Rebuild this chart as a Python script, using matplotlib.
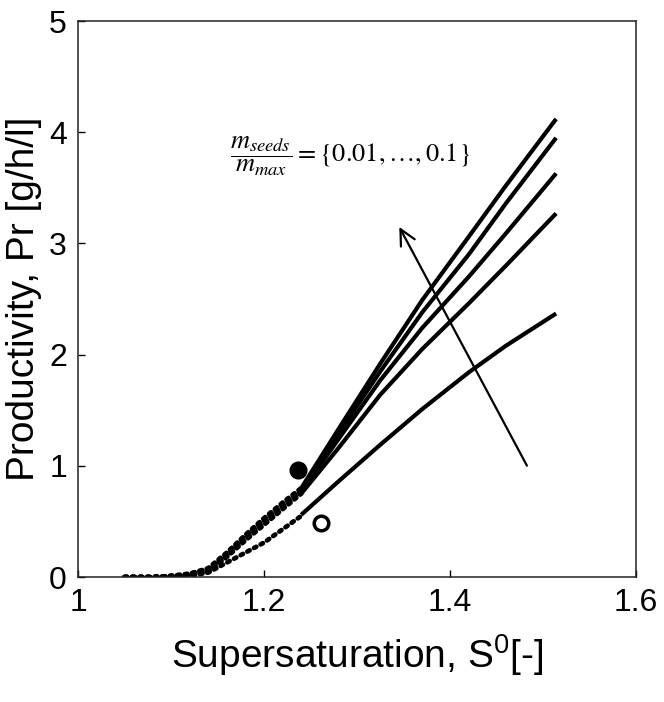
import matplotlib
matplotlib.use("Agg")
import matplotlib.pyplot as plt
import numpy as np

plt.rcParams['font.family'] = ['Liberation Sans', 'DejaVu Sans']
plt.rcParams['mathtext.fontset'] = 'custom'
plt.rcParams['mathtext.rm'] = 'Liberation Sans'
plt.rcParams['mathtext.it'] = 'Liberation Sans:italic'

# supersaturation grid, dotted (low S) and solid (high S) parts
s_dot = [1.05, 1.08, 1.10, 1.12, 1.14, 1.16, 1.18, 1.20, 1.22, 1.24]
s_sol = [1.24, 1.28, 1.325, 1.37, 1.42, 1.46, 1.514]

# productivity for m_seeds/m_max = 0.01 ... 0.1 (lowest to highest)
pr_dot = [
    [0, 0, 0.0, 0.01, 0.04, 0.13, 0.22, 0.31, 0.43, 0.55],
    [0, 0, 0.0, 0.02, 0.05, 0.18, 0.33, 0.47, 0.61, 0.75],
    [0, 0, 0.01, 0.02, 0.06, 0.19, 0.35, 0.49, 0.63, 0.77],
    [0, 0, 0.01, 0.03, 0.07, 0.21, 0.37, 0.51, 0.65, 0.78],
    [0, 0, 0.01, 0.03, 0.08, 0.22, 0.38, 0.53, 0.67, 0.80],
]
pr_sol = [
    [0.56, 0.86, 1.19, 1.51, 1.84, 2.08, 2.37],
    [0.75, 1.16, 1.64, 2.05, 2.46, 2.80, 3.27],
    [0.77, 1.24, 1.77, 2.24, 2.70, 3.09, 3.63],
    [0.78, 1.29, 1.85, 2.38, 2.90, 3.36, 3.95],
    [0.80, 1.33, 1.92, 2.49, 3.06, 3.52, 4.12],
]

# experimental points
exp_filled = (1.237, 0.96)
exp_open = (1.261, 0.49)

fig = plt.figure(figsize=(6.64, 7.02), dpi=100)
ax = fig.add_axes([0.1175, 0.178, 0.8405, 0.792])

for d, s in zip(pr_dot, pr_sol):
    ax.plot(s_dot, d, color='black', lw=3.4, linestyle=(0, (0.55, 1.05)),
            dash_capstyle='round')
    ax.plot(s_sol, s, color='black', lw=3.0, solid_capstyle='butt')

ax.plot(*exp_filled, marker='o', color='black', ms=12, ls='none')
ax.plot(*exp_open, marker='o', mfc='white', mec='black', mew=2.5, ms=10.5, ls='none')

ax.annotate('', xy=(1.344, 3.17), xytext=(1.484, 0.98),
            arrowprops=dict(arrowstyle='->', lw=1.6, color='black',
                            mutation_scale=28))
ax.text(1.163, 3.78, r'$\dfrac{m_{seeds}}{m_{max}} = \{0.01, \ldots, 0.1\}$',
        fontsize=19, math_fontfamily='stix', va='center', ha='left')

ax.set_xlim(1, 1.6)
ax.set_ylim(0, 5)
ax.set_xticks([1, 1.2, 1.4, 1.6])
ax.set_xticklabels(['1', '1.2', '1.4', '1.6'])
ax.set_yticks([0, 1, 2, 3, 4, 5])
ax.tick_params(direction='in', length=5, width=1, labelsize=23, pad=8)
for sp in ax.spines.values():
    sp.set_linewidth(1.1)
    sp.set_color('#222222')

ax.set_xlabel(r'Supersaturation, S$^{0}$[-]', fontsize=28, labelpad=10)
ax.set_ylabel('Productivity, Pr [g/h/l]', fontsize=28, labelpad=5)

fig.savefig('out.png', dpi=100)
